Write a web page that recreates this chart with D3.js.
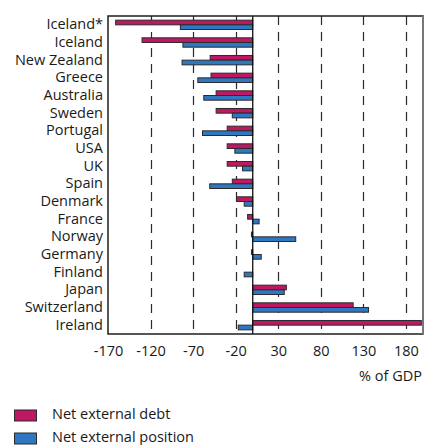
<!DOCTYPE html>
<html>
<head>
<meta charset="utf-8">
<script src="https://cdn.jsdelivr.net/npm/d3@7"></script>
<style>
  html, body { margin: 0; padding: 0; background: #fff; }
  svg { display: block; }
  text { font-family: "Open Sans", "Noto Sans", sans-serif; fill: #1a1a1a; }
</style>
</head>
<body>
<svg id="chart" width="426" height="445"></svg>
<script>
// Countries, top to bottom
const categories = ["Iceland*", "Iceland", "New Zealand", "Greece", "Australia", "Sweden",
  "Portugal", "USA", "UK", "Spain", "Denmark", "France", "Norway", "Germany",
  "Finland", "Japan", "Switzerland", "Ireland"];
// Net external debt, % of GDP
const netDebt = [-161, -130, -50, -49, -43, -43, -30, -30, -30, -24, -19, -6, -1.5, -1.5, 0, 39.5, 118, 198];
// Net external position, % of GDP
const netPosition = [-85, -82, -83, -64.5, -57.5, -24, -59, -21, -12, -50.5, -10, 7.5, 50.5, 10, -10, 37, 136, -17];
// Axis ticks
const tickValues = [-170, -120, -70, -20, 30, 80, 130, 180];
const seriesNames = ["Net external debt", "Net external position"];
const seriesColors = ["#BF1863", "#2F77C0"];

const svg = d3.select("#chart");
const plot = { left: 108, right: 423, top: 16, bottom: 334 };
const fontSize = 14.5;

const x = d3.scaleLinear().domain([-170, 200]).range([plot.left, plot.right]);
const y = d3.scaleBand().domain(categories).range([plot.top, plot.bottom]).paddingInner(0.47).paddingOuter(0.235);
const sub = d3.scaleBand().domain([0, 1]).range([0, y.bandwidth()]);

// Dashed gridlines
svg.append("g")
  .selectAll("line")
  .data(tickValues.filter(d => d !== -170))
  .join("line")
  .attr("x1", d => Math.round(x(d)) + 0.5)
  .attr("x2", d => Math.round(x(d)) + 0.5)
  .attr("y1", plot.top)
  .attr("y2", plot.bottom)
  .attr("stroke", "#2a2a2a")
  .attr("stroke-width", 1.2)
  .attr("stroke-dasharray", "9,7");

// Bars
const rows = categories.map((c, i) => ({ c, vals: [netDebt[i], netPosition[i]] }));
const groups = svg.append("g").selectAll("g")
  .data(rows)
  .join("g")
  .attr("transform", d => `translate(0,${y(d.c)})`);

groups.selectAll("rect")
  .data(d => d.vals.map((v, k) => ({ v, k })).filter(e => e.v !== 0))
  .join("rect")
  .attr("x", e => x(Math.min(0, e.v)))
  .attr("width", e => Math.abs(x(e.v) - x(0)))
  .attr("y", e => sub(e.k))
  .attr("height", sub.bandwidth())
  .attr("fill", e => seriesColors[e.k])
  .attr("stroke", "#2b2b2b")
  .attr("stroke-width", 1);

// Zero line
svg.append("line")
  .attr("x1", x(0)).attr("x2", x(0))
  .attr("y1", plot.top).attr("y2", plot.bottom)
  .attr("stroke", "#111").attr("stroke-width", 1.3);

// Frame
svg.append("rect")
  .attr("x", plot.left).attr("y", plot.top)
  .attr("width", plot.right - plot.left).attr("height", plot.bottom - plot.top)
  .attr("fill", "none").attr("stroke", "#1e1e1e").attr("stroke-width", 1.5);
svg.append("line")
  .attr("x1", plot.right).attr("x2", plot.right)
  .attr("y1", plot.top).attr("y2", plot.bottom)
  .attr("stroke", "#777").attr("stroke-width", 2);

// Category labels
const yAxis = d3.axisLeft(y).tickSize(0).tickPadding(0);
svg.append("g")
  .attr("transform", `translate(103,0)`)
  .call(yAxis)
  .call(g => g.select(".domain").remove())
  .selectAll("text")
  .attr("font-size", fontSize)
  .attr("font-family", "\"Open Sans\", sans-serif")
  .attr("fill", "#1a1a1a");

// Value axis labels
const xAxis = d3.axisBottom(x).tickValues(tickValues).tickSize(0).tickPadding(0).tickFormat(d => String(d));
svg.append("g")
  .attr("transform", `translate(0,${plot.bottom + 12})`)
  .call(xAxis)
  .call(g => g.select(".domain").remove())
  .selectAll("text")
  .attr("font-size", fontSize)
  .attr("font-family", "\"Open Sans\", sans-serif")
  .attr("fill", "#1a1a1a");

svg.append("text")
  .attr("x", 422).attr("y", 381)
  .attr("text-anchor", "end")
  .attr("font-size", fontSize)
  .text("% of GDP");

// Legend
const legend = svg.append("g").selectAll("g")
  .data(seriesNames)
  .join("g")
  .attr("transform", (d, i) => `translate(14.5,${410 + i * 23})`);
legend.append("rect")
  .attr("width", 22).attr("height", 11)
  .attr("fill", (d, i) => seriesColors[i])
  .attr("stroke", "#2b2b2b").attr("stroke-width", 1);
legend.append("text")
  .attr("x", 37.5).attr("y", 9)
  .attr("font-size", fontSize)
  .text(d => d);
</script>
</body>
</html>
